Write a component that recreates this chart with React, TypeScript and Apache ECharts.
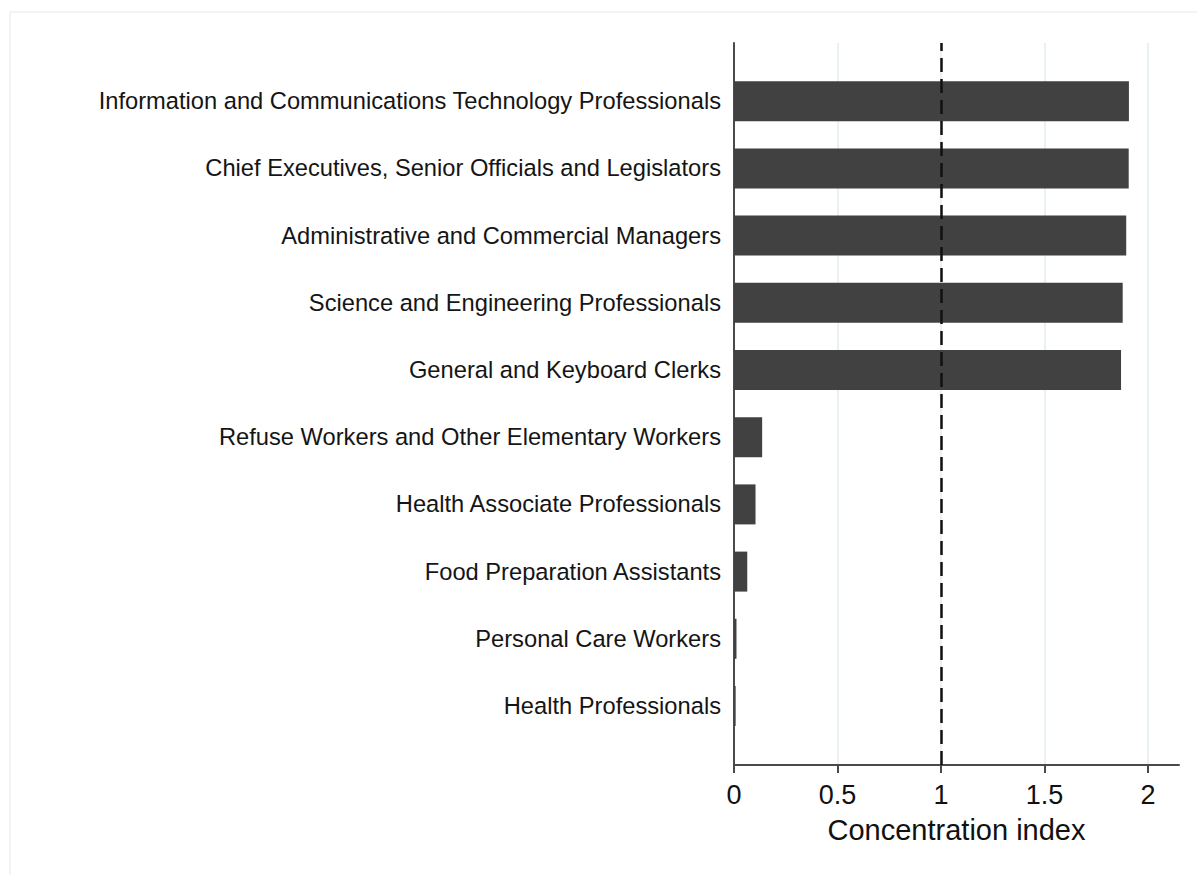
import React, { useEffect, useRef } from "react";
import * as echarts from "echarts";

const categories = [
  "Information and Communications Technology Professionals",
  "Chief Executives, Senior Officials and Legislators",
  "Administrative and Commercial Managers",
  "Science and Engineering Professionals",
  "General and Keyboard Clerks",
  "Refuse Workers and Other Elementary Workers",
  "Health Associate Professionals",
  "Food Preparation Assistants",
  "Personal Care Workers",
  "Health Professionals",
];

const concentrationIndex = [1.908, 1.907, 1.895, 1.878, 1.87, 0.136, 0.104, 0.064, 0.012, 0.008];

const xTicks = [0, 0.5, 1, 1.5, 2];
const referenceLine = 1;
const xAxisTitle = "Concentration index";

const FONT = "'Liberation Sans', Arial, Helvetica, sans-serif";
const X_MAX = 2.15;

export default function App() {
  const ref = useRef<HTMLDivElement>(null);

  useEffect(() => {
    if (!ref.current) return;
    const chart = echarts.init(ref.current, undefined, { renderer: "svg" });
    chart.setOption({
      animation: false,
      backgroundColor: "#ffffff",
      graphic: [
        {
          type: "rect",
          shape: { x: 10, y: 12, width: 1200, height: 880 },
          style: { fill: "none", stroke: "#efefef", lineWidth: 1.5 },
          silent: true,
          z: -10,
        },
      ],
      grid: [
        { left: 734, right: 18, top: 67.6, bottom: 874 - 739.6 },
        { left: 734, right: 18, top: 43, bottom: 109 },
      ],
      xAxis: [
        {
          gridIndex: 0,
          type: "value",
          min: 0,
          max: X_MAX,
          show: false,
        },
        {
          gridIndex: 1,
          type: "value",
          min: 0,
          max: X_MAX,
          interval: 0.5,
          name: xAxisTitle,
          nameLocation: "middle",
          nameGap: 50,
          nameTextStyle: { fontFamily: FONT, fontSize: 29, color: "#111111" },
          axisLine: { show: true, lineStyle: { color: "#4a4a4a", width: 2 } },
          axisTick: {
            show: true,
            length: 8,
            customValues: xTicks,
            lineStyle: { color: "#4a4a4a", width: 2 },
          },
          axisLabel: {
            customValues: xTicks,
            margin: 16,
            fontFamily: FONT,
            fontSize: 27,
            color: "#111111",
            formatter: (v: number) => String(v),
          },
          splitLine: { show: true, lineStyle: { color: "#e2eded", width: 1.5 } },
        },
      ],
      yAxis: [
        {
          gridIndex: 0,
          type: "category",
          inverse: true,
          data: categories,
          axisLine: { show: false },
          axisTick: { show: false },
          axisLabel: {
            margin: 13,
            fontFamily: FONT,
            fontSize: 23.7,
            color: "#151515",
          },
        },
        {
          gridIndex: 1,
          type: "value",
          min: 0,
          max: 1,
          axisLine: { show: true, lineStyle: { color: "#4a4a4a", width: 2 } },
          axisTick: { show: false },
          axisLabel: { show: false },
          splitLine: { show: false },
        },
      ],
      series: [
        {
          type: "bar",
          xAxisIndex: 0,
          yAxisIndex: 0,
          data: concentrationIndex,
          barWidth: 40,
          itemStyle: { color: "#414141" },
          z: 3,
        },
        {
          type: "line",
          xAxisIndex: 1,
          yAxisIndex: 1,
          data: [],
          z: 5,
          markLine: {
            silent: true,
            symbol: "none",
            label: { show: false },
            lineStyle: { color: "#111111", width: 2.5, type: [14, 7] },
            data: [{ xAxis: referenceLine }],
          },
        },
      ],
    });
    return () => chart.dispose();
  }, []);

  return (
    <div
      ref={ref}
      style={{ position: "absolute", left: 0, top: 0, width: 1197, height: 874 }}
    />
  );
}
